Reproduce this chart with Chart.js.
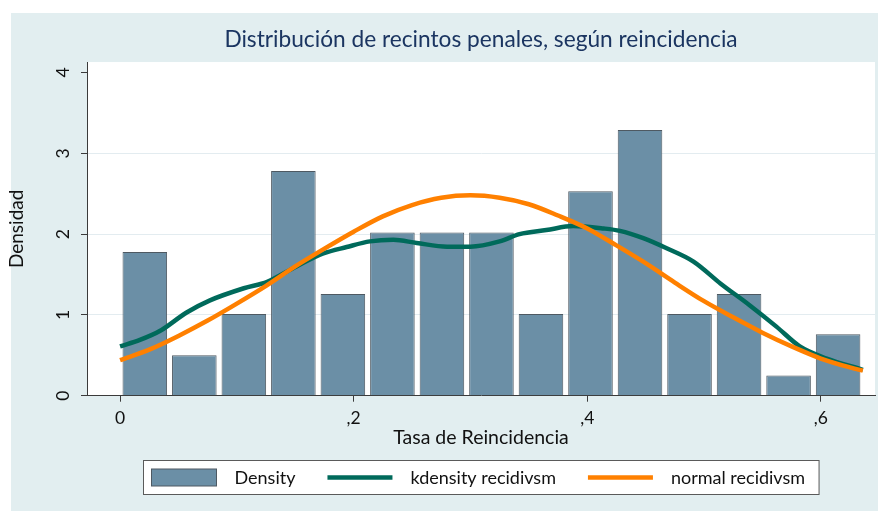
<!DOCTYPE html>
<html>
<head>
<meta charset="utf-8">
<script src="https://cdn.jsdelivr.net/npm/chart.js@4.4.1/dist/chart.umd.min.js"></script>
<style>
  html, body { margin: 0; padding: 0; background: #fff; }
  #wrap { position: relative; width: 878px; height: 511px; }
</style>
</head>
<body>
<div id="wrap"><canvas id="myChart"></canvas></div>
<script>
// histogram bins (centre of each bin) and their density
var binCenters = [0.0212, 0.0636, 0.1060, 0.1484, 0.1908, 0.2332, 0.2756, 0.3180, 0.3604, 0.4028, 0.4452, 0.4876, 0.5300, 0.5724, 0.6148]
var density = [1.78, 0.50, 1.01, 2.78, 1.26, 2.02, 2.02, 2.02, 1.01, 2.53, 3.29, 1.01, 1.26, 0.25, 0.76]

// kernel density
var kdensX = [0, 0.017, 0.034, 0.057, 0.077, 0.106, 0.126, 0.151, 0.174, 0.194, 0.214, 0.234, 0.254, 0.28, 0.30, 0.325, 0.342, 0.365, 0.388, 0.414, 0.428, 0.448, 0.468, 0.491, 0.514, 0.539, 0.562, 0.582, 0.605, 0.636]
var kdensY = [0.61, 0.69, 0.80, 1.03, 1.18, 1.33, 1.41, 1.60, 1.76, 1.84, 1.91, 1.93, 1.89, 1.845, 1.845, 1.91, 2.00, 2.05, 2.10, 2.07, 2.04, 1.95, 1.825, 1.66, 1.39, 1.12, 0.855, 0.61, 0.46, 0.32]

// normal density
var normalX = [0, 0.025, 0.05, 0.075, 0.1, 0.125, 0.15, 0.175, 0.2, 0.225, 0.25, 0.275, 0.3, 0.325, 0.35, 0.375, 0.4, 0.425, 0.45, 0.475, 0.5, 0.525, 0.55, 0.575, 0.6, 0.625, 0.636]
var normalY = [0.44, 0.57, 0.74, 0.93, 1.14, 1.36, 1.60, 1.82, 2.03, 2.22, 2.36, 2.45, 2.48, 2.45, 2.37, 2.23, 2.07, 1.86, 1.64, 1.40, 1.17, 0.97, 0.78, 0.61, 0.46, 0.35, 0.31]

var xTicks = [0, 0.2, 0.4, 0.6]
var xTickLabels = ['0', ',2', ',4', ',6']
var yTicks = [0, 1, 2, 3, 4]
var seriesLabels = ['Density', 'kdensity recidivsm', 'normal recidivsm']

var FONT = 'Lato'
Chart.defaults.font.family = FONT
Chart.defaults.color = '#111'

function pairs(xs, ys) {
    return xs.map((x, i) => ({ x: x, y: ys[i] }))
}

// teal frame with a white plot region
const backdrop = {
    id: 'backdrop',
    beforeDraw(chart) {
        const { ctx, chartArea: a } = chart
        ctx.save()
        ctx.fillStyle = '#ffffff'
        ctx.fillRect(0, 0, chart.width, chart.height)
        ctx.fillStyle = '#e2eef0'
        ctx.fillRect(11, 13, chart.width - 11, chart.height - 13)
        ctx.fillStyle = '#ffffff'
        ctx.fillRect(a.left, a.top, a.right - a.left, a.bottom - a.top)
        ctx.restore()
    }
}

// boxed legend under the axis title
const boxLegend = {
    id: 'boxLegend',
    afterDraw(chart) {
        const { ctx, chartArea: a } = chart
        const ds = chart.data.datasets
        const sw = 65, gapText = 18, gapItem = 32, padL = 8, padR = 14
        ctx.save()
        ctx.font = '18px ' + FONT
        const widths = ds.map(d => ctx.measureText(d.label).width)
        let total = padL + padR + gapItem * (ds.length - 1)
        widths.forEach(w => { total += sw + gapText + w })
        const left = Math.round((a.left + a.right) / 2 - total / 2) + 0.5
        const top = chart.height - 51 + 0.5, h = 34
        const cy = top + h / 2
        ctx.fillStyle = '#ffffff'
        ctx.fillRect(left, top, total, h)
        ctx.strokeStyle = '#5a5a5a'
        ctx.lineWidth = 1
        ctx.strokeRect(left, top, total, h)
        let x = left + padL
        ds.forEach((d, i) => {
            if (d.type === 'line') {
                ctx.strokeStyle = d.borderColor
                ctx.lineWidth = d.borderWidth
                ctx.beginPath()
                ctx.moveTo(x, cy)
                ctx.lineTo(x + sw, cy)
                ctx.stroke()
            } else {
                ctx.fillStyle = d.backgroundColor
                ctx.fillRect(x, cy - 8.5, sw, 17)
                ctx.strokeStyle = d.borderColor
                ctx.lineWidth = 1
                ctx.strokeRect(x, cy - 8.5, sw, 17)
            }
            x += sw + gapText
            ctx.fillStyle = '#111'
            ctx.textBaseline = 'middle'
            ctx.textAlign = 'left'
            ctx.fillText(d.label, x, cy + 1)
            x += widths[i] + gapItem
        })
        ctx.restore()
    }
}

var chartField = document.querySelector('#myChart').getContext('2d')

var myChart = new Chart(chartField, {
    type: 'bar',
    data: {
        datasets: [{
            label: seriesLabels[0],
            data: pairs(binCenters, density),
            backgroundColor: '#6b8fa6',
            borderColor: '#4e5962',
            borderWidth: 1,
            barPercentage: 0.9,
            categoryPercentage: 1.0,
            order: 3
        }, {
            type: 'line',
            label: seriesLabels[1],
            data: pairs(kdensX, kdensY),
            borderColor: '#006a5b',
            borderWidth: 4.5,
            pointRadius: 0,
            cubicInterpolationMode: 'monotone',
            order: 2
        }, {
            type: 'line',
            label: seriesLabels[2],
            data: pairs(normalX, normalY),
            borderColor: '#ff8000',
            borderWidth: 4.5,
            pointRadius: 0,
            cubicInterpolationMode: 'monotone',
            order: 1
        }]
    },
    options: {
        responsive: true,
        maintainAspectRatio: false,
        animation: false,
        layout: { padding: { left: 0, right: 3, top: 0, bottom: 61.9 } },
        plugins: {
            legend: { display: false },
            tooltip: { enabled: false },
            title: {
                display: true,
                fullSize: false,
                text: 'Distribución de recintos penales, según reincidencia',
                color: '#1b3561',
                font: { family: FONT, size: 22.7, weight: 'normal' },
                padding: { top: 26, bottom: 8.8 }
            }
        },
        scales: {
            x: {
                type: 'linear',
                min: -0.0283,
                max: 0.6464,
                offset: false,
                afterBuildTicks: s => { s.ticks = xTicks.map(v => ({ value: v })) },
                afterFit: s => { s.height = 53.4 },
                border: { color: '#3a3a3a', width: 1 },
                grid: { offset: false, drawOnChartArea: false, tickColor: '#3a3a3a', tickLength: 6 },
                ticks: {
                    maxRotation: 0,
                    autoSkip: false,
                    padding: 6,
                    font: { size: 17.5 },
                    callback: (v, i) => xTickLabels[i]
                },
                title: {
                    display: true,
                    text: 'Tasa de Reincidencia',
                    font: { size: 19.5 },
                    padding: 0
                }
            },
            y: {
                min: 0,
                max: 4.13,
                afterBuildTicks: s => { s.ticks = yTicks.map(v => ({ value: v })) },
                afterFit: s => { s.width = 87 },
                border: { color: '#3a3a3a', width: 1 },
                grid: {
                    color: c => (c.tick && (c.tick.value === 0 || c.tick.value === 4)) ? 'rgba(0,0,0,0)' : '#e3ecf0',
                    tickColor: '#3a3a3a',
                    tickLength: 6,
                    lineWidth: 1
                },
                ticks: {
                    minRotation: 90,
                    maxRotation: 90,
                    crossAlign: 'center',
                    padding: 13,
                    font: { size: 17.5 }
                },
                title: {
                    display: true,
                    text: 'Densidad',
                    font: { size: 19 },
                    padding: { top: 5, bottom: 5 }
                }
            }
        }
    },
    plugins: [backdrop, boxLegend]
});
</script>
</body>
</html>
